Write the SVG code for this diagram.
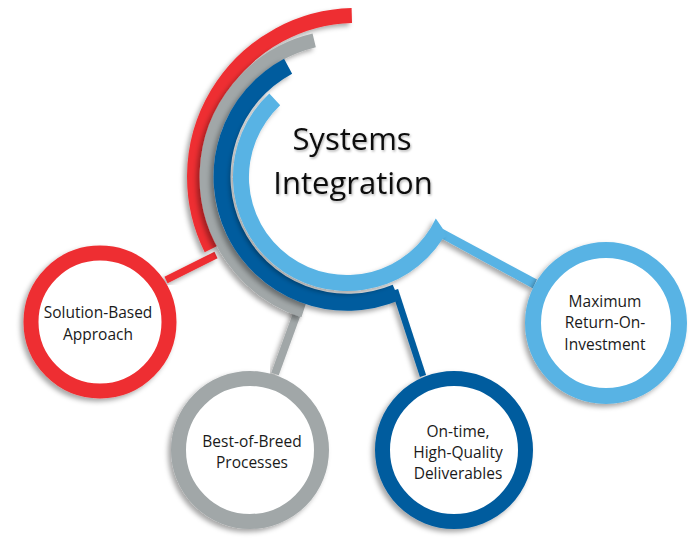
<svg xmlns="http://www.w3.org/2000/svg" width="700" height="547" viewBox="0 0 700 547">
<defs>
<filter id="sh" x="-20%" y="-20%" width="140%" height="140%">
<feDropShadow dx="-3" dy="3" stdDeviation="2.5" flood-color="#000" flood-opacity="0.35"/>
</filter>
<filter id="tsh" x="-10%" y="-10%" width="120%" height="130%">
<feDropShadow dx="1" dy="1.5" stdDeviation="1" flood-color="#000" flood-opacity="0.3"/>
</filter>
<style>
.arc{fill:none;stroke-linecap:butt;filter:url(#sh)}
.ring{fill:#fff;filter:url(#sh)}
.red{stroke:#EE2E31}
.gray{stroke:#A1A7A8}
.dblue{stroke:#035C9E}
.lblue{stroke:#58B3E4}
.con{fill:none;stroke-linecap:butt;filter:url(#sh)}
.lbl{font-family:"Open Sans","Liberation Sans",sans-serif;font-size:15.5px;fill:#1a1a1a;text-anchor:middle}
.title{font-family:"Open Sans","Liberation Sans",sans-serif;font-size:31px;fill:#111;text-anchor:middle;filter:url(#tsh)}
</style>
</defs>
<rect width="700" height="547" fill="#fff"/>
<g id="connectors">
<line class="con red" x1="216" y1="255" x2="166" y2="280" stroke-width="7"/>
<line class="con gray" x1="299" y1="308" x2="275" y2="374" stroke-width="8"/>
<line class="con dblue" x1="395" y1="290" x2="423" y2="376" stroke-width="6.5"/>
<polygon points="443,229 537,279.5 533,288.5 442.6,239.1" fill="#58B3E4" filter="url(#sh)"/>
</g>
<g id="center">
<path class="arc red" d="M211.4,248.8 A161.5,161.5 0 0 1 351.8,15.5" stroke-width="15"/>
<path class="arc gray" d="M303.6,310.6 A140.5,140.5 0 0 1 314.2,40.4" stroke-width="14"/>
<path class="arc dblue" d="M396,292.5 A125.5,125.5 0 0 1 288.1,66.2" stroke-width="17"/>
<path d="M269.3,93.6 A114,114 0 1 0 442.6,239.1 L446,236 L443,229 L435.8,218.4 A98,98 0 1 1 280.2,105.3 Z" fill="#58B3E4" filter="url(#sh)"/>
<text class="title" x="352" y="150">Systems</text>
<text class="title" x="353" y="194">Integration</text>
</g>
<g id="node-solution">
<circle class="ring red" cx="100" cy="322" r="69" stroke-width="15"/>
<text class="lbl" x="98" y="318">Solution-Based</text>
<text class="lbl" x="98" y="340">Approach</text>
</g>
<g id="node-breed">
<circle class="ring gray" cx="250" cy="450" r="71.5" stroke-width="15"/>
<text class="lbl" x="252" y="447">Best-of-Breed</text>
<text class="lbl" x="252" y="468">Processes</text>
</g>
<g id="node-ontime">
<circle class="ring dblue" cx="454" cy="450" r="71.5" stroke-width="15"/>
<text class="lbl" x="458" y="437">On-time,</text>
<text class="lbl" x="458" y="458">High-Quality</text>
<text class="lbl" x="458" y="479">Deliverables</text>
</g>
<g id="node-roi">
<circle class="ring lblue" cx="606" cy="323" r="73" stroke-width="16"/>
<text class="lbl" x="605" y="307">Maximum</text>
<text class="lbl" x="605" y="328">Return-On-</text>
<text class="lbl" x="605" y="350">Investment</text>
</g>
</svg>
